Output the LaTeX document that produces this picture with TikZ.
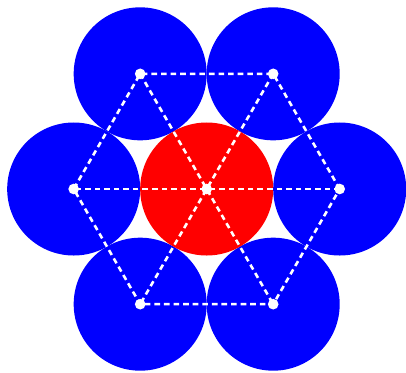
\documentclass[tikz,border=0pt]{standalone}
\begin{document}
\begin{tikzpicture}[
      ball/.style={circle, minimum size=2cm, inner sep=0pt},
      bond/.style={white, line width=1.1pt, dash pattern=on 2.4pt off 1.7pt},
      site/.style={circle, fill=white, minimum size=0.16cm, inner sep=0pt}
    ]
      \useasboundingbox (-3.108,-2.752) rectangle (2.997,2.842);
      % lattice sites
      \coordinate (c) at (0,0);
      \foreach \i in {1,...,6}
        \coordinate (p\i) at ({60*(\i-1)}:2);

      % outer balls
      \foreach \i in {1,...,6}
        \node[ball, fill=blue] (b\i) at (p\i) {};
      % central ball
      \node[ball, fill=red] (b0) at (c) {};

      % hexagon and diagonals
      \draw[bond] (p1) -- (p2) -- (p3) -- (p4) -- (p5) -- (p6) -- cycle;
      \foreach \i/\j in {1/4,2/5,3/6}
        \draw[bond] (p\i) -- (p\j);

      % site dots
      \node[site] (s0) at (c) {};
      \foreach \i in {1,...,6}
        \node[site] (s\i) at (p\i) {};
    \end{tikzpicture}
\end{document}
